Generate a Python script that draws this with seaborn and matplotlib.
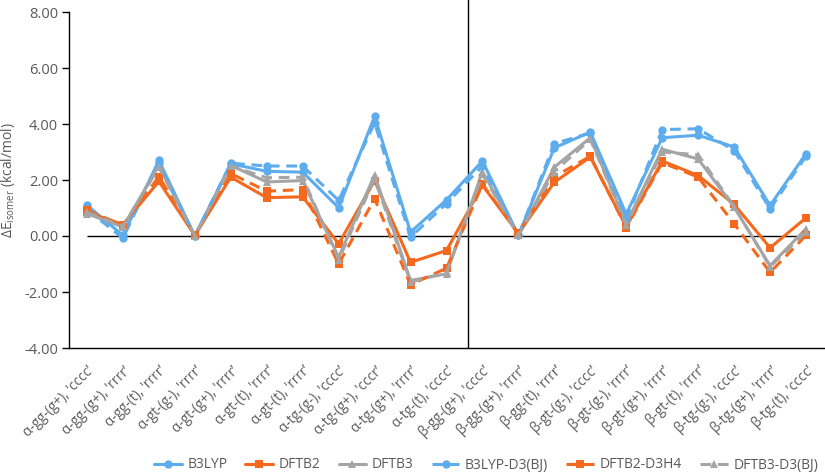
import numpy as np
import pandas as pd
import seaborn as sns
import matplotlib.pyplot as plt

# --- Data ---
categories = [
    "α-gg-(g+), 'cccc’", "α-gg-(g+), 'rrrr’", "α-gg-(t), 'rrrr’", "α-gt-(g-), 'rrrr’",
    "α-gt-(g+), 'rrrr’", "α-gt-(t), 'rrrr’", "α-gt-(t), 'rrrr’", "α-tg-(g-), 'cccc’",
    "α-tg-(g+), 'cccr’", "α-tg-(g+), 'rrrr’", "α-tg-(t), 'cccc’",
    "β-gg-(g+), 'cccc’", "β-gg-(g+), 'rrrr’", "β-gg-(t), 'rrrr’", "β-gt-(g-), 'cccc’",
    "β-gt-(g-), 'rrrr’", "β-gt-(g+), 'rrrr’", "β-gt-(t), 'rrrr’", "β-tg-(g-), 'cccc’",
    "β-tg-(g+), 'rrrr’", "β-tg-(t), 'cccc’",
]

b3lyp = [1.10, 0.02, 2.70, 0.00, 2.58, 2.31, 2.28, 1.01, 4.27, 0.14, 1.29,
         2.68, 0.02, 3.15, 3.71, 0.78, 3.51, 3.60, 3.18, 1.09, 2.94]
dftb2 = [0.85, 0.41, 1.95, 0.02, 2.10, 1.37, 1.40, -0.28, 1.98, -0.94, -0.52,
         1.81, 0.09, 1.92, 2.82, 0.33, 2.68, 2.16, 1.13, -0.42, 0.65]
dftb3 = [0.80, 0.32, 2.52, 0.00, 2.52, 1.93, 1.98, -0.76, 2.18, -1.59, -1.35,
         2.30, 0.02, 2.46, 3.51, 0.44, 3.10, 2.75, 1.03, -1.06, 0.26]
b3lyp_d3 = [0.95, -0.08, 2.62, 0.00, 2.60, 2.50, 2.50, 1.27, 4.04, -0.04, 1.16,
            2.50, 0.02, 3.30, 3.68, 0.62, 3.80, 3.83, 3.05, 0.97, 2.85]
dftb2_d3h4 = [0.92, 0.38, 2.12, 0.02, 2.23, 1.60, 1.66, -1.00, 1.33, -1.74, -1.15,
              1.85, 0.09, 2.12, 2.85, 0.30, 2.62, 2.10, 0.44, -1.30, 0.02]
dftb3_d3 = [0.85, 0.35, 2.45, 0.00, 2.50, 2.08, 2.10, -0.85, 2.05, -1.65, -1.30,
            2.20, 0.02, 2.30, 3.45, 0.40, 3.00, 2.90, 1.05, -1.10, 0.15]

series_names = ["B3LYP", "DFTB2", "DFTB3", "B3LYP-D3(BJ)", "DFTB2-D3H4", "DFTB3-D3(BJ)"]
series_values = [b3lyp, dftb2, dftb3, b3lyp_d3, dftb2_d3h4, dftb3_d3]

# --- Styles ---
BLUE = "#5DACEE"
ORANGE = "#F4691D"
GREY = "#A5A5A5"
TEXT = "#595959"
DASH = (0, (3.5, 2.2))
styles = {
    "B3LYP": (BLUE, "o", "-"),
    "DFTB2": (ORANGE, "s", "-"),
    "DFTB3": (GREY, "^", "-"),
    "B3LYP-D3(BJ)": (BLUE, "o", DASH),
    "DFTB2-D3H4": (ORANGE, "s", DASH),
    "DFTB3-D3(BJ)": (GREY, "^", DASH),
}

sns.set_theme(style="white")
plt.rcParams['font.family'] = ['Open Sans', 'DejaVu Sans']

fig = plt.figure(figsize=(8.25, 4.76), dpi=100)
ax = fig.add_axes([69 / 825, 1 - 348 / 476, 755 / 825, 336 / 476])

x = np.arange(len(categories))
for name, vals in zip(series_names, series_values):
    color, marker, ls = styles[name]
    df = pd.DataFrame({"x": x, "y": vals})
    sns.lineplot(data=df, x="x", y="y", ax=ax, color=color, marker=marker,
                 linestyle=ls, linewidth=2.2, markersize=7, markeredgewidth=0,
                 label=name, legend=False)

# zero line and alpha/beta separator
ax.hlines(0, x[0], x[-1], color="black", linewidth=1.0, zorder=1)
ax.axvline(10.6, ymin=0, ymax=348 / 336, color="black", linewidth=1.0,
           clip_on=False, zorder=1)

ax.set_xlim(-0.5, len(categories) - 0.5)
ax.set_ylim(-4, 8)
yt = np.arange(-4, 8.01, 2)
ax.set_yticks(yt)
ax.set_yticklabels([f"{v:.2f}" for v in yt], fontsize=10.5, color=TEXT)
ax.set_xticks(x)
ax.set_xticklabels(categories, rotation=45, ha="right", rotation_mode="anchor",
                   fontsize=9.8, color=TEXT)
ax.tick_params(axis="y", which="major", left=True, length=5, width=1, color="black", pad=3)
ax.tick_params(axis="x", bottom=False, pad=5)

for side in ["top", "right"]:
    ax.spines[side].set_visible(False)
for side in ["left", "bottom"]:
    ax.spines[side].set_color("black")
    ax.spines[side].set_linewidth(1.0)

ax.set_xlabel("")
ax.set_ylabel("ΔE$_{\\mathregular{isomer}}$ (kcal/mol)", fontsize=10, color=TEXT, labelpad=5)

handles, labels = ax.get_legend_handles_labels()
for h in handles:
    h.set_markersize(6)
fig.legend(handles, labels, loc="center", bbox_to_anchor=(486 / 825, 1 - 465 / 476),
           ncol=6, frameon=False, fontsize=10, handlelength=2.0, columnspacing=1.3,
           handletextpad=0.4, labelcolor=TEXT)

plt.savefig("out.png", dpi=100)
